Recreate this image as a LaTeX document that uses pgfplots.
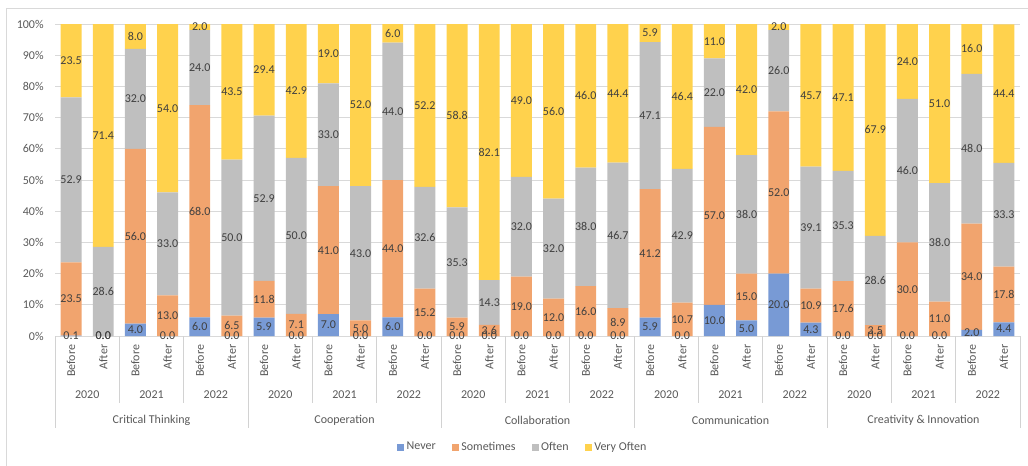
\documentclass[border=0pt]{standalone}
\usepackage{pgfplots}
\usepackage{pgfplotstable}
\pgfplotsset{compat=1.18}
\usepackage{fontspec}
\setmainfont{Carlito}

\definecolor{cNever}{RGB}{120,154,213}
\definecolor{cSome}{RGB}{241,164,110}
\definecolor{cOften}{RGB}{191,191,191}
\definecolor{cVery}{RGB}{255,210,77}
\definecolor{gridc}{RGB}{217,217,217}
\definecolor{sepc}{RGB}{210,210,210}
\definecolor{txt}{RGB}{89,89,89}
\definecolor{lbl}{RGB}{64,64,64}

% share of answers (%) per skill, year and moment (Before/After)
\pgfplotstableread{
x  never some often very
0  0.1  23.5 52.9  23.5
1  0.0  0.0  28.6  71.4
2  4.0  56.0 32.0  8.0
3  0.0  13.0 33.0  54.0
4  6.0  68.0 24.0  2.0
5  0.0  6.5  50.0  43.5
6  5.9  11.8 52.9  29.4
7  0.0  7.1  50.0  42.9
8  7.0  41.0 33.0  19.0
9  0.0  5.0  43.0  52.0
10 6.0  44.0 44.0  6.0
11 0.0  15.2 32.6  52.2
12 0.0  5.9  35.3  58.8
13 0.0  3.6  14.3  82.1
14 0.0  19.0 32.0  49.0
15 0.0  12.0 32.0  56.0
16 0.0  16.0 38.0  46.0
17 0.0  8.9  46.7  44.4
18 5.9  41.2 47.1  5.9
19 0.0  10.7 42.9  46.4
20 10.0 57.0 22.0  11.0
21 5.0  15.0 38.0  42.0
22 20.0 52.0 26.0  2.0
23 4.3  10.9 39.1  45.7
24 0.0  17.6 35.3  47.1
25 0.0  3.5  28.6  67.9
26 0.0  30.0 46.0  24.0
27 0.0  11.0 38.0  51.0
28 2.0  34.0 48.0  16.0
29 4.4  17.8 33.3  44.4
}\skills

\newcommand{\chartfont}{\fontsize{9}{11}\selectfont}

\pgfplotsset{
  frame/.style={
    scale only axis, width=723.75pt, height=234pt,
    xmin=-0.5, xmax=29.5, ymin=0, ymax=100,
    enlargelimits=false,
  },
  seglabel/.style={
    draw=none, mark=none,
    point meta=explicit,
    nodes near coords={\pgfmathprintnumber[fixed,fixed zerofill,precision=1,assume math mode=true]{\pgfplotspointmeta}},
    every node near coord/.append style={anchor=center, font=\chartfont, text=lbl, inner sep=0pt},
  },
}

\begin{document}
\begin{tikzpicture}
\useasboundingbox (-41.25pt,-96.75pt) rectangle (729.75pt,252pt);

% outer chart frame
\draw[gridc, line width=0.75pt] (-36pt,-100pt) -- (-36pt,246pt) -- (740pt,246pt);

\begin{axis}[frame,
  ybar stacked, bar width=0.65,
  axis line style={draw=none},
  major tick length=0pt,
  ymajorgrids, grid style={gridc, line width=0.75pt},
  ytick={0,10,...,100},
  /pgf/number format/assume math mode=true,
  yticklabel={\pgfmathprintnumber{\tick}\%},
  yticklabel style={font=\chartfont, text=txt},
  yticklabel shift=5pt,
  xtick={0,...,29},
  xticklabels={Before,After,Before,After,Before,After,Before,After,Before,After,Before,After,
               Before,After,Before,After,Before,After,Before,After,Before,After,Before,After,
               Before,After,Before,After,Before,After},
  xticklabel style={rotate=90, anchor=east, font=\chartfont, text=txt},
  xticklabel shift=3pt,
  legend columns=4,
  legend style={at={(0.485,-0.356)}, anchor=center, draw=none, fill=none,
    font=\chartfont, text=txt,
    /tikz/every even column/.append style={column sep=10pt}},
  legend image code/.code={\fill[#1] (0pt,-2.6pt) rectangle (5.2pt,2.6pt);},
]
\addplot[fill=cNever, draw=none] table[x=x, y=never] {\skills};
\addplot[fill=cSome,  draw=none] table[x=x, y=some]  {\skills};
\addplot[fill=cOften, draw=none] table[x=x, y=often] {\skills};
\addplot[fill=cVery,  draw=none] table[x=x, y=very]  {\skills};
\legend{Never,Sometimes,Often,Very Often}
\end{axis}

% value labels, centred in each segment
\begin{axis}[frame, hide axis, /pgf/number format/assume math mode=true]
\addplot[seglabel] table[x=x, y expr={\thisrow{never}/2}, meta=never] {\skills};
\addplot[seglabel] table[x=x, y expr={\thisrow{never}+\thisrow{some}/2}, meta=some] {\skills};
\addplot[seglabel] table[x=x, y expr={\thisrow{never}+\thisrow{some}+\thisrow{often}/2}, meta=often] {\skills};
\addplot[seglabel] table[x=x, y expr={\thisrow{never}+\thisrow{some}+\thisrow{often}+\thisrow{very}/2}, meta=very] {\skills};
\end{axis}

% multi-level category axis: years and skills
\begin{scope}[x=24.125pt, y=0.75pt]
  \foreach \k in {0,...,15} {
    \draw[sepc, line width=0.75pt] (2*\k,0) -- (2*\k,-67);
  }
  \foreach \m in {0,...,5} {
    \draw[sepc, line width=0.75pt] (6*\m,0) -- (6*\m,-92);
  }
  \foreach \k in {0,...,14} {
    \pgfmathtruncatemacro\yr{2020+mod(\k,3)}
    \node[font=\chartfont, text=txt] at (2*\k+1,-59) {\yr};
  }
  \foreach \m/\name in {0/Critical Thinking,1/Cooperation,2/Collaboration,3/Communication,4/Creativity \& Innovation} {
    \node[font=\chartfont, text=txt] at (6*\m+3,-84) {\name};
  }
\end{scope}
\end{tikzpicture}
\end{document}
